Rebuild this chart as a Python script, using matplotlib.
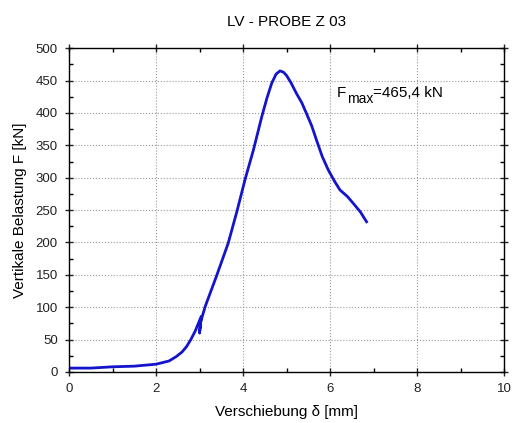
import matplotlib.pyplot as plt
from matplotlib.ticker import MultipleLocator

plt.rcParams['font.family'] = ['Liberation Sans', 'DejaVu Sans']

weg = [0.0, 0.5, 1.0, 1.5, 2.0, 2.3, 2.47, 2.6, 2.7, 2.8, 2.9, 3.04, 3.0, 3.03,
       3.13, 3.39, 3.66, 3.86, 4.05, 4.24, 4.43, 4.55, 4.66, 4.76, 4.85, 4.93,
       5.0, 5.1, 5.23, 5.35, 5.46, 5.58, 5.69, 5.82, 5.96, 6.1, 6.23, 6.4,
       6.54, 6.7, 6.84]
kraft = [6, 6, 8, 9, 12, 17, 24, 31, 39, 50, 63, 86, 60, 78,
         101, 148, 199, 248, 298, 343, 394, 423, 446, 460, 465, 463,
         458, 447, 430, 416, 399, 380, 358, 333, 312, 295, 281, 271,
         260, 247, 232]

fig = plt.figure(figsize=(5.13, 4.23), dpi=100, facecolor='white')
ax = fig.add_axes([0.1345, 0.1206, 0.848, 0.7654])

ax.plot(weg, kraft, color='#1414cc', linewidth=2.0)

ax.set_xlim(0, 10)
ax.set_ylim(0, 500)
ax.xaxis.set_major_locator(MultipleLocator(2))
ax.xaxis.set_minor_locator(MultipleLocator(1))
ax.yaxis.set_major_locator(MultipleLocator(50))
ax.yaxis.set_minor_locator(MultipleLocator(25))
ax.tick_params(which='major', direction='inout', length=6, width=1, pad=5,
               top=True, right=True, labelsize=9.5, colors='#222222')
ax.tick_params(which='minor', direction='in', length=3, width=1,
               top=True, right=True)
ax.grid(True, which='major', linestyle=':', color='#999999', linewidth=0.8)
for s in ax.spines.values():
    s.set_linewidth(1.0)

ax.set_title('LV - PROBE Z 03', fontsize=11, pad=16)
ax.set_xlabel('Verschiebung δ [mm]', fontsize=11, labelpad=7)
ax.set_ylabel('Vertikale Belastung F [kN]', fontsize=11, labelpad=6)

# F_max Beschriftung: F, tiefgestelltes "max", dann Wert
t1 = ax.text(6.16, 424, 'F', fontsize=11, ha='left', va='baseline')
t2 = ax.annotate('max', xy=(1, 0), xycoords=t1, xytext=(0.5, -4),
                 textcoords='offset points', fontsize=10, ha='left', va='bottom')
ax.annotate('=465,4 kN', xy=(1, 0), xycoords=(t2, t1),
            fontsize=11, ha='left', va='bottom')

fig.savefig('out.png', dpi=100)
